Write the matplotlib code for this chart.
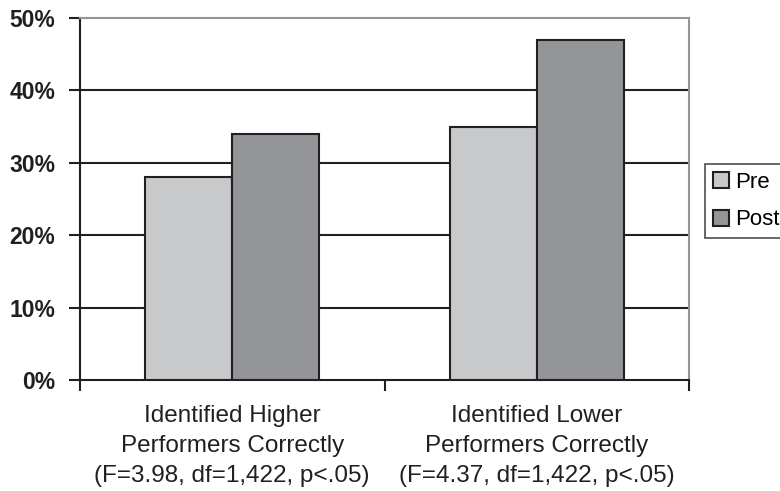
import matplotlib
matplotlib.use("Agg")
import matplotlib.pyplot as plt
import numpy as np

categories = [
    "Identified Higher\nPerformers Correctly\n(F=3.98, df=1,422, p<.05)",
    "Identified Lower\nPerformers Correctly\n(F=4.37, df=1,422, p<.05)",
]
pre = [28, 35]
post = [34, 47]
yticks = [0, 10, 20, 30, 40, 50]

plt.rcParams["font.family"] = ["Liberation Sans", "DejaVu Sans"]

fig = plt.figure(figsize=(7.8, 4.91), dpi=100)
ax = fig.add_axes([80 / 780, 111 / 491, 609 / 780, 362 / 491])

x = np.arange(len(categories)) + 0.5
w = 0.286
edge = "#231f20"
ax.bar(x - w / 2, pre, w, color="#c8c9cb", edgecolor=edge, linewidth=1.5, label="Pre", zorder=3)
ax.bar(x + w / 2, post, w, color="#939598", edgecolor=edge, linewidth=1.5, label="Post", zorder=3)

ax.set_xlim(0, 2)
ax.set_ylim(0, 50)
ax.set_yticks(yticks)
ax.set_yticklabels([f"{v}%" for v in yticks], fontsize=16.5, fontweight="bold", color="#231f20")
ax.tick_params(axis="y", length=8, width=1.5, color=edge, pad=10)

ax.set_xticks([0, 1, 2])
ax.set_xticklabels([])
ax.tick_params(axis="x", length=8, width=1.5, color=edge, direction="out")

for v in yticks[1:-1]:
    ax.axhline(v, color=edge, linewidth=1.5, zorder=1)

for s in ["left", "bottom"]:
    ax.spines[s].set_color(edge)
    ax.spines[s].set_linewidth(1.5)
for s in ["top", "right"]:
    ax.spines[s].set_color("#939598")
    ax.spines[s].set_linewidth(1.5)

for xi, lab in zip(x, categories):
    ax.text(xi, -0.07, lab, transform=ax.get_xaxis_transform(), ha="center", va="top",
            fontsize=17.5, color="#231f20", linespacing=1.45)

leg = fig.legend(loc="upper left", bbox_to_anchor=(705 / 780, 1 - 164 / 491),
                 borderaxespad=0, fontsize=16, frameon=True, fancybox=False, borderpad=0.35,
                 handlelength=0.72, handleheight=0.72, handletextpad=0.3, labelspacing=0.75)
leg.get_frame().set_edgecolor(edge)
leg.get_frame().set_linewidth(1.2)

fig.savefig("out.png", dpi=100)
